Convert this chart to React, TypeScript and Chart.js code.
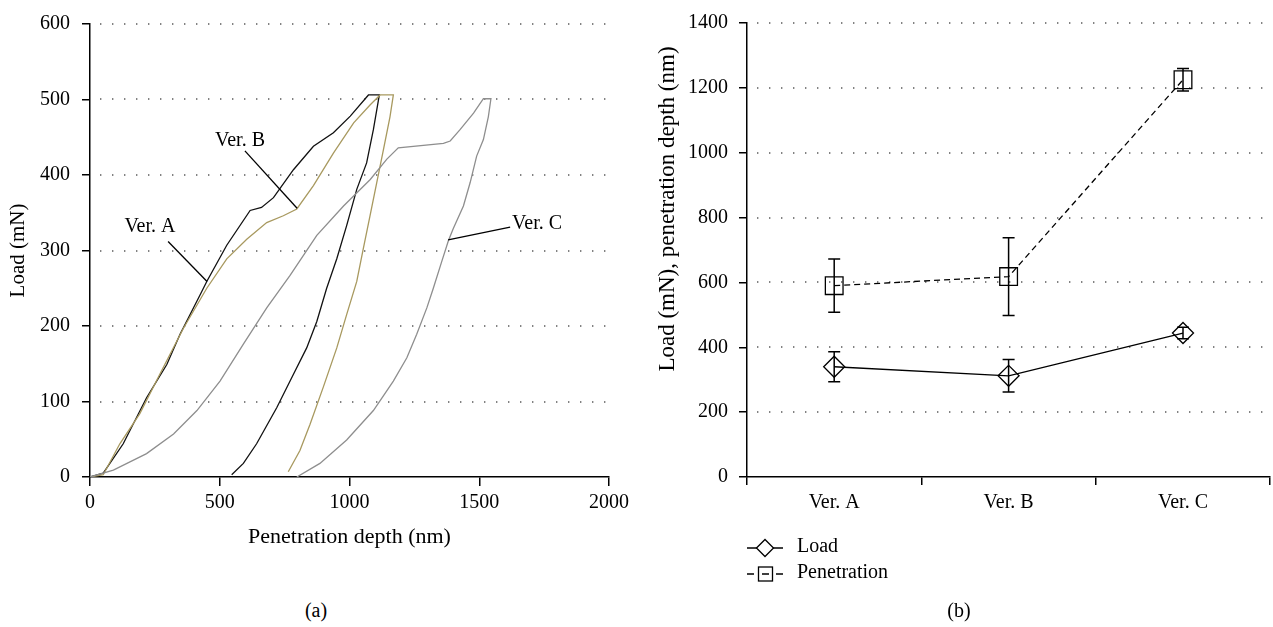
import React, { useEffect, useRef } from 'react';
import { Chart, registerables } from 'chart.js';

Chart.register(...registerables);

const FONT = '"Liberation Serif", "Times New Roman", "DejaVu Serif", serif';

// ---------- Panel (a): load–penetration curves ----------
const verADepth = [0, 51, 128, 218, 296, 347, 424, 450, 527, 617, 661, 707, 784, 861, 938, 1003, 1073, 1115, 1092, 1066, 1028, 989, 951, 912, 874, 835, 784, 720, 642, 591, 546];
const verALoad = [0, 5, 44, 105, 149, 189, 241, 259, 307, 353, 357, 370, 407, 438, 456, 478, 506, 506, 460, 416, 381, 333, 289, 250, 206, 171, 136, 92, 44, 18, 3];

const verBDepth = [0, 51, 115, 192, 269, 360, 450, 527, 604, 681, 745, 797, 861, 938, 1016, 1080, 1118, 1169, 1156, 1131, 1105, 1079, 1053, 1028, 989, 951, 899, 848, 809, 764];
const verBLoad = [0, 3, 44, 84, 136, 197, 250, 289, 315, 337, 346, 355, 386, 429, 469, 493, 506, 506, 477, 434, 390, 346, 302, 259, 215, 171, 119, 70, 35, 7];

const verCDepth = [0, 90, 218, 322, 412, 501, 591, 681, 771, 874, 977, 1080, 1144, 1188, 1362, 1388, 1426, 1478, 1516, 1545, 1535, 1516, 1490, 1465, 1439, 1400, 1381, 1355, 1323, 1298, 1259, 1221, 1169, 1092, 989, 886, 797];
const verCLoad = [0, 9, 31, 57, 88, 127, 176, 224, 267, 320, 359, 394, 421, 436, 442, 445, 460, 482, 501, 501, 477, 447, 425, 390, 359, 329, 313, 285, 250, 224, 189, 158, 127, 88, 49, 18, 0];

const annotationText = ['Ver. A', 'Ver. B', 'Ver. C'];
const annotationTextDepth = [231, 578, 1723];
const annotationTextLoad = [331, 446, 335];
const leaderFromDepth = [301, 597, 1619];
const leaderFromLoad = [312, 432, 331];
const leaderToDepth = [451, 798, 1380];
const leaderToLoad = [259, 356, 314];

// ---------- Panel (b): mean values with error bars ----------
const versions = ['Ver. A', 'Ver. B', 'Ver. C'];
const loadMean = [340, 312, 444];
const loadErr = [46, 50, 18];
const penMean = [590, 618, 1225];
const penErr = [82, 120, 35];

const leftYTitle = 'Load (mN)';
const leftXTitle = 'Penetration depth (nm)';
const rightYTitle = 'Load (mN), penetration depth (nm)';
const legendLabels = ['Load', 'Penetration'];

const pts = (xs: number[], ys: number[]) => xs.map((x, i) => ({ x, y: ys[i] }));
const plainTick = (v: any) => `${v}`;

const dottedGrid = {
  id: 'dottedGrid',
  beforeDatasetsDraw(chart: any) {
    const { ctx, chartArea, scales } = chart;
    const y = scales.y;
    ctx.save();
    ctx.strokeStyle = '#5a5a5a';
    ctx.lineWidth = 1.4;
    ctx.setLineDash([1.4, 10.6]);
    y.ticks.forEach((t: any) => {
      if (t.value === y.min) return;
      const py = Math.round(y.getPixelForValue(t.value));
      ctx.beginPath();
      ctx.moveTo(chartArea.left + 10, py);
      ctx.lineTo(chartArea.right, py);
      ctx.stroke();
    });
    ctx.restore();
  },
};

const annotations = {
  id: 'annotations',
  afterDatasetsDraw(chart: any) {
    const { ctx, scales } = chart;
    const xs = scales.x;
    const ys = scales.y;
    ctx.save();
    ctx.strokeStyle = '#000';
    ctx.lineWidth = 1.3;
    ctx.fillStyle = '#000';
    ctx.font = `20px ${FONT}`;
    ctx.textAlign = 'center';
    ctx.textBaseline = 'middle';
    annotationText.forEach((txt, i) => {
      ctx.beginPath();
      ctx.moveTo(xs.getPixelForValue(leaderFromDepth[i]), ys.getPixelForValue(leaderFromLoad[i]));
      ctx.lineTo(xs.getPixelForValue(leaderToDepth[i]), ys.getPixelForValue(leaderToLoad[i]));
      ctx.stroke();
      ctx.fillText(txt, xs.getPixelForValue(annotationTextDepth[i]), ys.getPixelForValue(annotationTextLoad[i]));
    });
    ctx.restore();
  },
};

const errorArrays = [loadErr, penErr];
const errorBars = {
  id: 'errorBars',
  afterDatasetsDraw(chart: any) {
    const { ctx, scales } = chart;
    chart.data.datasets.forEach((ds: any, di: number) => {
      const errs = errorArrays[di];
      const meta = chart.getDatasetMeta(di);
      meta.data.forEach((pt: any, i: number) => {
        const v = ds.data[i];
        const e = errs[i];
        const x = pt.x;
        const yt = scales.y.getPixelForValue(v + e);
        const yb = scales.y.getPixelForValue(v - e);
        ctx.save();
        ctx.strokeStyle = '#000';
        ctx.lineWidth = 1.5;
        ctx.setLineDash([]);
        ctx.beginPath();
        ctx.moveTo(x, yt);
        ctx.lineTo(x, yb);
        ctx.moveTo(x - 6, yt);
        ctx.lineTo(x + 6, yt);
        ctx.moveTo(x - 6, yb);
        ctx.lineTo(x + 6, yb);
        ctx.stroke();
        ctx.restore();
      });
    });
  },
};

const rightExtras = {
  id: 'rightExtras',
  afterDraw(chart: any) {
    const { ctx, chartArea } = chart;
    ctx.save();
    // rotated y-axis title
    ctx.translate(32, 209);
    ctx.rotate(-Math.PI / 2);
    ctx.font = `23px ${FONT}`;
    ctx.fillStyle = '#000';
    ctx.textAlign = 'center';
    ctx.textBaseline = 'middle';
    ctx.fillText(rightYTitle, 0, 0);
    ctx.restore();

    // legend
    const lx = chartArea.left;
    ctx.save();
    ctx.strokeStyle = '#000';
    ctx.fillStyle = '#000';
    ctx.lineWidth = 1.3;
    // Load row
    let y = 548;
    ctx.beginPath();
    ctx.moveTo(lx, y);
    ctx.lineTo(lx + 36, y);
    ctx.stroke();
    ctx.beginPath();
    ctx.moveTo(lx + 18 - 8.5, y);
    ctx.lineTo(lx + 18, y - 8.5);
    ctx.lineTo(lx + 18 + 8.5, y);
    ctx.lineTo(lx + 18, y + 8.5);
    ctx.closePath();
    ctx.fillStyle = '#fff';
    ctx.fill();
    ctx.stroke();
    // Penetration row
    y = 574;
    ctx.beginPath();
    ctx.moveTo(lx, y);
    ctx.lineTo(lx + 7, y);
    ctx.moveTo(lx + 29, y);
    ctx.lineTo(lx + 36, y);
    ctx.moveTo(lx + 15, y);
    ctx.lineTo(lx + 22, y);
    ctx.stroke();
    ctx.strokeRect(lx + 11.5, y - 7, 14, 14);
    ctx.fillStyle = '#000';
    ctx.font = `20px ${FONT}`;
    ctx.textAlign = 'left';
    ctx.textBaseline = 'middle';
    ctx.fillText(legendLabels[0], lx + 50, 547);
    ctx.fillText(legendLabels[1], lx + 50, 573);
    ctx.restore();
  },
};

export default function App() {
  const leftRef = useRef<HTMLCanvasElement>(null);
  const rightRef = useRef<HTMLCanvasElement>(null);

  useEffect(() => {
    Chart.defaults.font.family = FONT;
    Chart.defaults.font.size = 20;
    Chart.defaults.color = '#000';

    const axisGrid = (len: number) => ({
      drawOnChartArea: false,
      drawTicks: true,
      color: '#000',
      lineWidth: 1.5,
      tickLength: len,
    });
    const border = { color: '#000', width: 1.5 };

    const lineDs = (label: string, xs: number[], ys: number[], color: string) => ({
      label,
      data: pts(xs, ys),
      borderColor: color,
      borderWidth: 1.3,
      pointRadius: 0,
      tension: 0,
      fill: false,
    });

    const left = new Chart(leftRef.current as HTMLCanvasElement, {
      type: 'line',
      data: {
        datasets: [
          lineDs('Ver. C', verCDepth, verCLoad, '#8e8e8e'),
          lineDs('Ver. B', verBDepth, verBLoad, '#a8995f'),
          lineDs('Ver. A', verADepth, verALoad, '#111111'),
        ],
      },
      options: {
        animation: false,
        responsive: false,
        devicePixelRatio: 1,
        layout: { padding: { top: 20, right: 27, bottom: 0, left: 0 } },
        plugins: { legend: { display: false }, tooltip: { enabled: false }, title: { display: false } },
        scales: {
          x: {
            type: 'linear',
            min: 0,
            max: 2000,
            ticks: { stepSize: 500, padding: 5, color: '#000', font: { size: 20 }, maxRotation: 0, callback: plainTick },
            grid: axisGrid(9),
            border,
            title: { display: true, text: leftXTitle, color: '#000', font: { size: 22 }, padding: { top: 0, bottom: 10 } },
            afterFit: (s: any) => { s.height = 83; },
          },
          y: {
            type: 'linear',
            min: 0,
            max: 600,
            ticks: { stepSize: 100, padding: 12, color: '#000', font: { size: 20 }, callback: plainTick },
            grid: axisGrid(8),
            border,
            title: { display: true, text: leftYTitle, color: '#000', font: { size: 21 }, padding: { top: 6, bottom: 0 } },
            afterFit: (s: any) => { s.width = 90; },
          },
        },
      } as any,
      plugins: [dottedGrid, annotations],
    });

    const right = new Chart(rightRef.current as HTMLCanvasElement, {
      type: 'line',
      data: {
        labels: versions,
        datasets: [
          {
            label: legendLabels[0],
            data: loadMean,
            borderColor: '#000',
            borderWidth: 1.3,
            pointStyle: 'rectRot',
            pointRadius: 10.5,
            pointBorderWidth: 1.3,
            pointBorderColor: '#000',
            pointBackgroundColor: 'rgba(0,0,0,0)',
            tension: 0,
            fill: false,
          },
          {
            label: legendLabels[1],
            data: penMean,
            borderColor: '#000',
            borderWidth: 1.3,
            borderDash: [6, 4],
            pointStyle: 'rect',
            pointRadius: 12.5,
            pointBorderWidth: 1.3,
            pointBorderColor: '#000',
            pointBackgroundColor: 'rgba(0,0,0,0)',
            tension: 0,
            fill: false,
          },
        ],
      },
      options: {
        animation: false,
        responsive: false,
        devicePixelRatio: 1,
        layout: { padding: { top: 20, right: 4, bottom: 0, left: 0 } },
        plugins: { legend: { display: false }, tooltip: { enabled: false }, title: { display: false } },
        scales: {
          x: {
            type: 'category',
            offset: true,
            ticks: { padding: 6, color: '#000', font: { size: 20 }, maxRotation: 0 },
            grid: { ...axisGrid(8), offset: true },
            border,
            afterFit: (s: any) => { s.height = 150; s.paddingLeft = 0; s.paddingRight = 0; },
          },
          y: {
            type: 'linear',
            min: 0,
            max: 1400,
            ticks: { stepSize: 200, padding: 11, color: '#000', font: { size: 20 }, callback: plainTick },
            grid: axisGrid(8),
            border,
            afterFit: (s: any) => { s.width = 111; },
          },
        },
      } as any,
      plugins: [dottedGrid, errorBars, rightExtras],
    });

    return () => {
      left.destroy();
      right.destroy();
    };
  }, []);

  const caption = (left: number, text: string) => (
    <div
      style={{
        position: 'absolute',
        left,
        top: 598,
        width: 100,
        textAlign: 'center',
        font: `20px ${FONT}`,
        lineHeight: '24px',
        color: '#000',
      }}
    >
      {text}
    </div>
  );

  return (
    <div style={{ position: 'absolute', left: 0, top: 0, width: 1273, height: 627, background: '#fff', overflow: 'hidden' }}>
      <canvas ref={leftRef} width={636} height={560} style={{ position: 'absolute', left: 0, top: 0, width: 636, height: 560 }} />
      <canvas ref={rightRef} width={648} height={627} style={{ position: 'absolute', left: 636, top: 0, width: 648, height: 627 }} />
      {caption(266, '(a)')}
      {caption(909, '(b)')}
    </div>
  );
}
